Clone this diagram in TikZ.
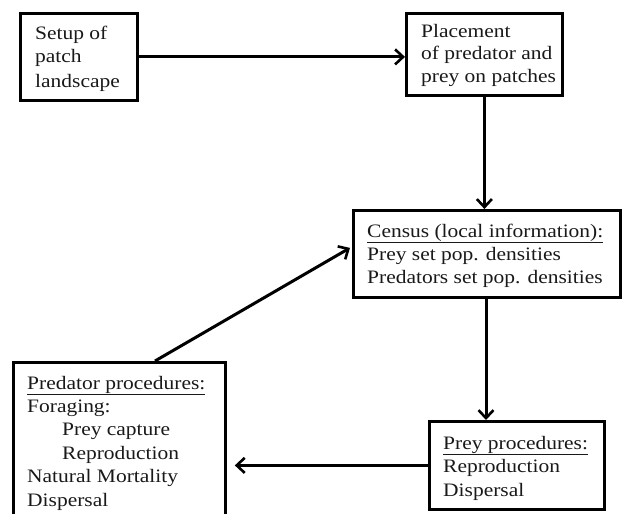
\documentclass[tikz,border=0pt]{standalone}
\usepackage{fontspec}
\setmainfont[FakeStretch=1.13]{Liberation Serif}
\usetikzlibrary{arrows.meta}
\begin{document}
\begin{tikzpicture}[x=1pt,y=-1pt,
  box/.style={draw=black,line width=2.8pt,rectangle,inner sep=0pt,anchor=north west},
  txt/.style={anchor=base west,align=left,inner sep=0pt,text=black!90,
    font=\fontsize{19}{23.4}\selectfont},
  arr/.style={line width=3pt,-{Straight Barb[length=8pt,width=15pt,line width=2.6pt]}}]
\useasboundingbox (0,0) rectangle (625,514);
% boxes
\node[box,minimum width=117pt,minimum height=87pt] (setup) at (19,12) {};
\node[box,minimum width=156pt,minimum height=82pt] (place) at (405,12) {};
\node[box,minimum width=267pt,minimum height=87pt] (census) at (352,209) {};
\node[box,minimum width=175pt,minimum height=88pt] (prey) at (428,420) {};
\node[box,minimum width=212pt,minimum height=170pt] (pred) at (12,361) {};
% texts (anchored at the baseline of their last line)
\node[txt,font=\fontsize{19}{24}\selectfont] (tsetup) at (35,87) {Setup of\\patch\\landscape};
\node[txt,font=\fontsize{19}{22.5}\selectfont] (tplace) at (421,82) {Placement\\of predator and\\prey on patches};
\node[txt,font=\fontsize{19}{23}\selectfont] (tcensus) at (367,283) {\underline{Census (local information):}\\Prey set pop. densities\\Predators set pop. densities};
\node[txt,font=\fontsize{19}{23.5}\selectfont] (tprey) at (443,496) {\underline{Prey procedures:}\\Reproduction\\Dispersal};
\node[txt] (tpred) at (27,506) {\underline{Predator procedures:}\\Foraging:\\\hspace{35pt}Prey capture\\\hspace{35pt}Reproduction\\Natural Mortality\\Dispersal};
% arrows
\draw[arr] (setup.east) -- (setup.east -| place.west);
\draw[arr] (place.south) -- (census.north -| place.south);
\draw[arr] ([xshift=134pt]census.south west) -- ([xshift=58pt]prey.north west);
\draw[arr,shorten >=8pt] (prey.west) -- (prey.west -| pred.east);
\draw[arr] ([xshift=143pt]pred.north west) -- ([yshift=6pt,xshift=-2pt]census.west);
\end{tikzpicture}
\end{document}
